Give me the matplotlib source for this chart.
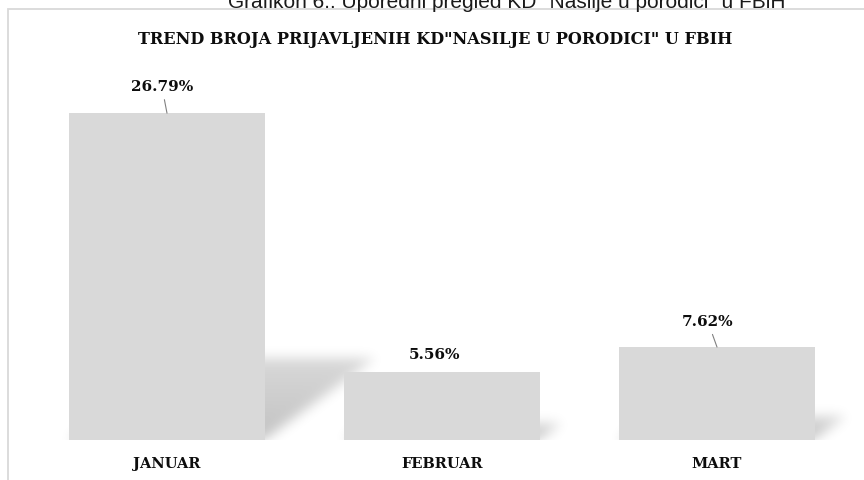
import numpy as np
import matplotlib
matplotlib.use('Agg')
import matplotlib.pyplot as plt
from matplotlib.patches import Rectangle

# data
months = ['JANUAR', 'FEBRUAR', 'MART']
values = [26.79, 5.56, 7.62]
# label offsets from bar top (pixels)
label_dx = [-5, -7, -9]
label_dy = [26, 17, 25]

caption = 'Grafikon 6.: Uporedni pregled KD "Nasilje u porodici" u FBiH'
title = 'TREND BROJA PRIJAVLJENIH KD"NASILJE U PORODICI" U FBIH'

W, H = 864, 480
fig = plt.figure(figsize=(W / 100, H / 100), dpi=100)

serif = 'DejaVu Serif'
bar_color = '#d9d9d9'
bar_width = 0.71

# axes: baseline at y=440px, 12.2 px per percent, bar centers 275 px apart
ax_left, ax_bottom, ax_top = 8, 40, 380
ax = fig.add_axes([ax_left / W, ax_bottom / H, (W - ax_left) / W, ax_top / H])
x0 = -(167 - ax_left) / 275
x1 = x0 + (W - ax_left) / 275
y1 = ax_top / 12.2
ax.set_xlim(x0, x1)
ax.set_ylim(0, y1)

# blurred perspective shadow behind the bars
nx, ny = W - ax_left, ax_top
xs = np.linspace(x0, x1, nx)
ys = np.linspace(0, y1, ny)
X, Y = np.meshgrid(xs, ys)
mask = np.zeros_like(X)
for i, v in enumerate(values):
    sh = v * 0.25
    skew = 0.06
    inside = (Y <= sh) & (X >= i - bar_width / 2 + Y * skew) & (X <= i + bar_width / 2 + Y * skew)
    # lighter further away from the bar
    mask[inside] = np.maximum(mask[inside], 1.0 - 0.35 * Y[inside] / sh)
k = np.exp(-0.5 * (np.arange(-18, 19) / 6.0) ** 2)
k /= k.sum()
mask = np.apply_along_axis(lambda r: np.convolve(r, k, mode='same'), 1, mask)
mask = np.apply_along_axis(lambda c: np.convolve(c, k, mode='same'), 0, mask)
img = np.zeros((ny, nx, 4))
img[..., 3] = mask * 0.24
ax.imshow(img, extent=(x0, x1, 0, y1), origin='lower', aspect='auto', zorder=1, interpolation='bilinear')

pos = np.arange(len(months))
ax.bar(pos, values, width=bar_width, color=bar_color, zorder=2)

for i, v in enumerate(values):
    arrow = dict(arrowstyle='-', color='#808080', lw=0.8, shrinkB=0) if label_dy[i] > 20 else None
    ax.annotate(f'{v:.2f}%', xy=(i, v), xytext=(label_dx[i] * 0.72, label_dy[i] * 0.72),
                textcoords='offset points', ha='center', va='center',
                fontsize=11, fontweight='bold', family=serif, color='#0d0d0d',
                arrowprops=arrow, annotation_clip=False, zorder=3)

ax.set_xticks(pos)
ax.set_xticklabels(months, fontsize=10.5, fontweight='bold', family=serif, color='#0d0d0d')
ax.tick_params(axis='x', length=0, pad=12.5)
ax.set_yticks([])
for s in ax.spines.values():
    s.set_visible(False)
ax.patch.set_alpha(0)

# chart border (runs off the right and bottom edge)
fig.add_artist(Rectangle((ax_left / W, -0.1), 1.2, 1 - 9 / H + 0.1, transform=fig.transFigure,
                         fill=False, edgecolor='#d9d9d9', lw=1.3))

fig.text(435 / W, 1 - 44 / H, title, ha='center', va='baseline', fontsize=11.6,
         fontweight='bold', family=serif, color='#0d0d0d')
fig.text(228 / W, 1 - 8 / H, caption, ha='left', va='baseline', fontsize=15,
         family='Liberation Sans', color='#1a1a1a')

fig.savefig('out.png', dpi=100)
